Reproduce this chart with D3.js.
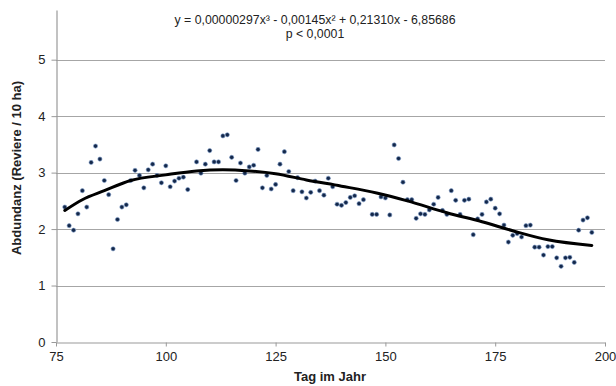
<!DOCTYPE html>
<html lang="de">
<head>
  <meta charset="UTF-8">
  <title>Abundanz</title>
  <script src="https://d3js.org/d3.v7.min.js"></script>
  <style>
    body { margin: 0; background: #fff; }
    text { font-family: "Liberation Sans", Arial, sans-serif; fill: #222; }
  </style>
</head>
<body>
  <div id="chart"></div>

  <script>
    // Beobachtungen: Tag im Jahr und Abundanz (Reviere / 10 ha)
    const tage = [77, 78, 79, 80, 81, 82, 83, 84, 85, 86, 87, 88, 89, 90, 91, 92, 93, 94, 95, 96,
                  97, 98, 99, 100, 101, 102, 103, 104, 105, 107, 108, 109, 110, 111, 112, 113, 114, 115, 116, 117,
                  118, 119, 120, 121, 122, 123, 124, 125, 126, 127, 128, 129, 130, 131, 132, 133, 134, 135, 136, 137,
                  138, 139, 140, 141, 142, 143, 144, 145, 147, 148, 149, 150, 151, 152, 153, 154, 155, 156, 157, 158,
                  159, 160, 161, 162, 163, 164, 165, 166, 167, 168, 169, 170, 171, 172, 173, 174, 175, 176, 177, 178,
                  179, 180, 181, 182, 183, 184, 185, 186, 187, 188, 189, 190, 191, 192, 193, 194, 195, 196, 197];
    const abundanz = [2.39, 2.06, 1.98, 2.27, 2.68, 2.39, 3.18, 3.47, 3.24, 2.86, 2.61, 1.65, 2.17, 2.39, 2.43, 2.86, 3.04, 2.95, 2.73, 3.05,
                      3.15, 2.95, 2.82, 3.12, 2.75, 2.85, 2.90, 2.92, 2.70, 3.19, 2.99, 3.15, 3.39, 3.19, 3.19, 3.65, 3.67, 3.27, 2.86, 3.17,
                      2.99, 3.10, 3.13, 3.41, 2.73, 2.95, 2.71, 2.79, 3.15, 3.37, 3.02, 2.68, 2.91, 2.66, 2.55, 2.65, 2.85, 2.68, 2.60, 2.90,
                      2.75, 2.44, 2.42, 2.47, 2.56, 2.59, 2.45, 2.52, 2.26, 2.26, 2.57, 2.55, 2.25, 3.49, 3.25, 2.83, 2.52, 2.52, 2.19, 2.27,
                      2.26, 2.34, 2.44, 2.56, 2.33, 2.26, 2.68, 2.51, 2.26, 2.51, 2.53, 1.90, 2.18, 2.26, 2.48, 2.53, 2.37, 2.27, 2.07, 1.77,
                      1.89, 1.92, 1.86, 2.06, 2.07, 1.68, 1.68, 1.54, 1.69, 1.69, 1.49, 1.34, 1.49, 1.50, 1.41, 1.98, 2.16, 2.20, 1.94];

    // Trendlinie
    const trendTage = [77, 81, 86, 92, 100, 107, 113, 119, 125, 132, 140, 148, 155, 164, 172, 179, 187, 197];
    const trendWerte = [2.33, 2.52, 2.68, 2.86, 2.96, 3.03, 3.05, 3.03, 2.98, 2.87, 2.76, 2.64, 2.50, 2.29, 2.13, 1.97, 1.81, 1.71];

    const xTicks = [75, 100, 125, 150, 175, 200];
    const yTicks = [0, 1, 2, 3, 4, 5];
    const gleichung = ["y = 0,00000297x³ - 0,00145x² + 0,21310x - 6,85686", "p < 0,0001"];

    const W = 616, H = 386;
    const pLeft = 56, pRight = 605, pTop = 10, pBottom = 342;

    const svg = d3.select("#chart")
                  .append("svg")
                  .attr("width", W)
                  .attr("height", H);

    const x = d3.scaleLinear().domain([75, 200]).range([pLeft, pRight]);
    const y = d3.scaleLinear().domain([0, 5.88]).range([pBottom, pTop]);

    // Gitterlinien
    svg.append("g")
       .selectAll("line")
       .data(yTicks.filter(d => d > 0))
       .enter()
       .append("line")
       .attr("x1", pLeft)
       .attr("x2", pRight)
       .attr("y1", d => Math.round(y(d)) + 0.5)
       .attr("y2", d => Math.round(y(d)) + 0.5)
       .attr("stroke", "#a6a6a6")
       .attr("stroke-width", 1.2);

    const xAxis = svg.append("g")
       .attr("transform", `translate(0, ${pBottom + 0.5})`)
       .call(d3.axisBottom(x).tickValues(xTicks).tickSize(4).tickSizeOuter(0).tickPadding(5));

    const yAxis = svg.append("g")
       .attr("transform", `translate(${pLeft + 0.5}, 0)`)
       .call(d3.axisLeft(y).tickValues(yTicks).tickFormat(d3.format("d")).tickSize(5).tickSizeOuter(0).tickPadding(6));

    [xAxis, yAxis].forEach(a => {
      a.select(".domain").attr("stroke", "#999").attr("stroke-width", 1.2);
      a.selectAll(".tick line").attr("stroke", "#999");
      a.selectAll(".tick text")
       .style("font-family", "'Liberation Sans', Arial, sans-serif")
       .style("font-size", "13px")
       .attr("fill", "#222");
    });

    // Punkte
    const punkte = tage.map((t, i) => ({t: t, v: abundanz[i]}));
    svg.append("g")
       .selectAll("circle")
       .data(punkte)
       .enter()
       .append("circle")
       .attr("cx", d => x(d.t))
       .attr("cy", d => y(d.v))
       .attr("r", 2.1)
       .attr("fill", "#14284a")
       .attr("stroke", "#7d9cc9")
       .attr("stroke-width", 0.6);

    // Trendlinie
    const linie = d3.line()
                    .x((d, i) => x(trendTage[i]))
                    .y(d => y(d))
                    .curve(d3.curveMonotoneX);

    svg.append("path")
       .datum(trendWerte)
       .attr("d", linie)
       .attr("fill", "none")
       .attr("stroke", "#000")
       .attr("stroke-width", 3)
       .attr("stroke-linecap", "round");

    // Gleichung
    svg.append("g")
       .selectAll("text")
       .data(gleichung)
       .enter()
       .append("text")
       .attr("x", 315)
       .attr("y", (d, i) => 24 + i * 14)
       .attr("text-anchor", "middle")
       .style("font-size", "12.3px")
       .text(d => d);

    // Achsentitel
    svg.append("text")
       .attr("x", 330)
       .attr("y", 381)
       .attr("text-anchor", "middle")
       .style("font-size", "13px")
       .style("font-weight", "bold")
       .text("Tag im Jahr");

    svg.append("text")
       .attr("transform", "translate(21, 168) rotate(-90)")
       .attr("text-anchor", "middle")
       .style("font-size", "13px")
       .style("font-weight", "bold")
       .text("Abdundanz (Reviere / 10 ha)");
  </script>
</body>
</html>
